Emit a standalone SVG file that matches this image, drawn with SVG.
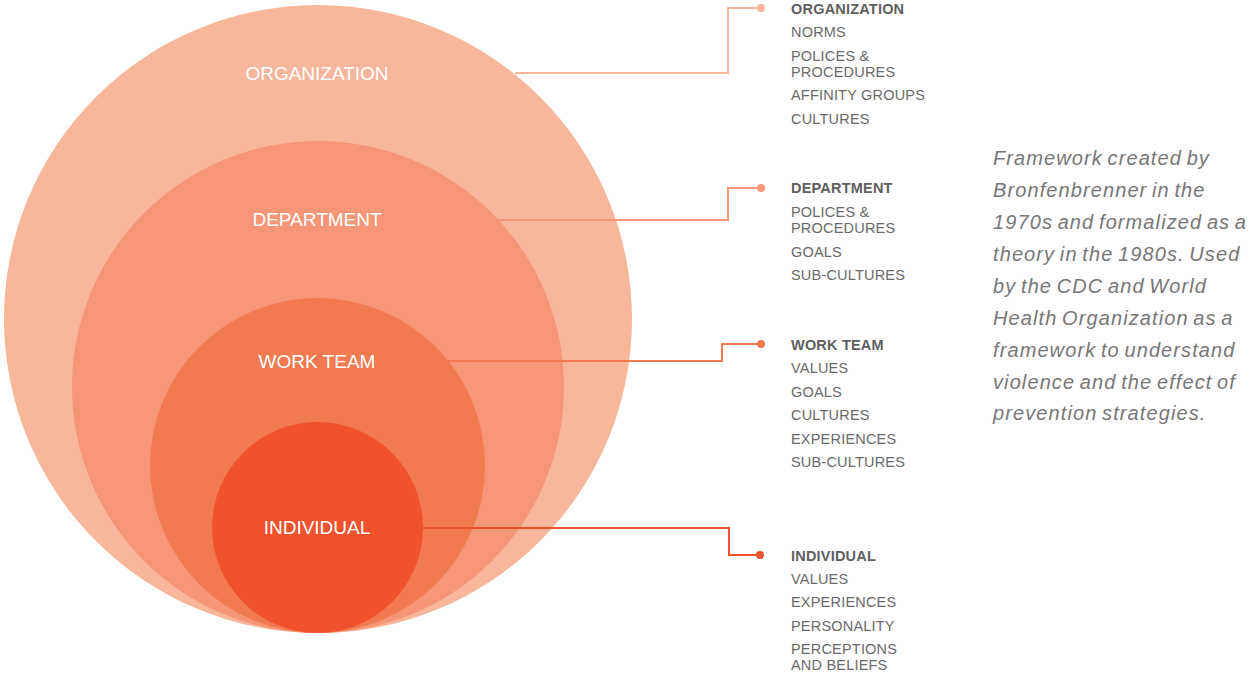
<svg xmlns="http://www.w3.org/2000/svg" width="1249" height="675" viewBox="0 0 1249 675">
<style>
.lbl{font-family:"Liberation Sans",Arial,sans-serif;font-size:19px;fill:#ffffff;text-anchor:middle}
.hd{font-family:"Liberation Sans",Arial,sans-serif;font-size:14.5px;letter-spacing:0.2px;font-weight:bold;fill:#5f5f5f}
.it{font-family:"Liberation Sans",Arial,sans-serif;font-size:14.5px;letter-spacing:0.2px;fill:#6a6a6a}
.note{font-family:"Liberation Sans",Arial,sans-serif;font-size:20px;letter-spacing:1.1px;word-spacing:-2px;font-style:italic;fill:#777777}
.c{fill:none;stroke-width:2}
</style>
<rect width="1249" height="675" fill="#ffffff"/>
<g id="organization">
<circle cx="318" cy="319" r="314" fill="#F8B79A"/>
<text class="lbl" x="317" y="80">ORGANIZATION</text>
</g>
<g id="department">
<circle cx="318" cy="387" r="246" fill="#F59677"/>
<text class="lbl" x="317" y="226">DEPARTMENT</text>
</g>
<g id="work-team">
<circle cx="317.5" cy="465.5" r="167.5" fill="#F27A51"/>
<text class="lbl" x="317" y="368">WORK TEAM</text>
</g>
<g id="individual">
<circle cx="317.5" cy="527.5" r="105.5" fill="#F0522E"/>
<text class="lbl" x="317" y="534">INDIVIDUAL</text>
</g>
<g id="connectors">
<polyline class="c" stroke="#F8B79A" points="515,73 728,73 728,8 761,8"/>
<circle cx="761" cy="8" r="4" fill="#F8B79A"/>
<polyline class="c" stroke="#F59677" points="497,220 728,220 728,188 761,188"/>
<circle cx="761" cy="188" r="4" fill="#F59677"/>
<polyline class="c" stroke="#F27A51" points="437,361 722,361 722,344 761,344"/>
<circle cx="761" cy="344" r="4" fill="#F27A51"/>
<polyline class="c" stroke="#F0522E" points="422,528 729,528 729,555 760,555"/>
<circle cx="760" cy="555" r="4" fill="#F0522E"/>
</g>
<g id="list-organization">
<text class="hd" x="791" y="14">ORGANIZATION</text>
<text class="it" x="791" y="37">NORMS</text>
<text class="it" x="791" y="61">POLICES &amp;</text>
<text class="it" x="791" y="77">PROCEDURES</text>
<text class="it" x="791" y="100">AFFINITY GROUPS</text>
<text class="it" x="791" y="124">CULTURES</text>
</g>
<g id="list-department">
<text class="hd" x="791" y="193">DEPARTMENT</text>
<text class="it" x="791" y="217">POLICES &amp;</text>
<text class="it" x="791" y="233">PROCEDURES</text>
<text class="it" x="791" y="257">GOALS</text>
<text class="it" x="791" y="280">SUB-CULTURES</text>
</g>
<g id="list-work-team">
<text class="hd" x="791" y="350">WORK TEAM</text>
<text class="it" x="791" y="373">VALUES</text>
<text class="it" x="791" y="397">GOALS</text>
<text class="it" x="791" y="420">CULTURES</text>
<text class="it" x="791" y="444">EXPERIENCES</text>
<text class="it" x="791" y="467">SUB-CULTURES</text>
</g>
<g id="list-individual">
<text class="hd" x="791" y="561">INDIVIDUAL</text>
<text class="it" x="791" y="584">VALUES</text>
<text class="it" x="791" y="607">EXPERIENCES</text>
<text class="it" x="791" y="631">PERSONALITY</text>
<text class="it" x="791" y="654">PERCEPTIONS</text>
<text class="it" x="791" y="670">AND BELIEFS</text>
</g>
<g id="note">
<text class="note" x="993" y="165">Framework created by</text>
<text class="note" x="993" y="197">Bronfenbrenner in the</text>
<text class="note" x="993" y="229">1970s and formalized as a</text>
<text class="note" x="993" y="261">theory in the 1980s. Used</text>
<text class="note" x="993" y="293">by the CDC and World</text>
<text class="note" x="993" y="325">Health Organization as a</text>
<text class="note" x="993" y="357">framework to understand</text>
<text class="note" x="993" y="389">violence and the effect of</text>
<text class="note" x="993" y="420">prevention strategies.</text>
</g>
</svg>
